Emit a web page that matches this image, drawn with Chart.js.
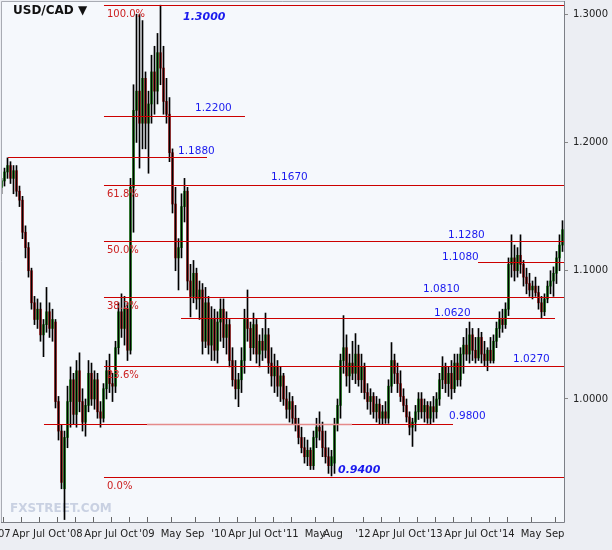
<!DOCTYPE html>
<html><head><meta charset="utf-8">
<script src="https://cdn.jsdelivr.net/npm/chart.js@4.4.1/dist/chart.umd.min.js"></script>
<style>html,body{margin:0;padding:0;background:#eceef3;}canvas{display:block;}</style>
</head><body>
<canvas id="c" width="612" height="550"></canvas>
<script>
// Semi-monthly USD/CAD candles, Jan 2007 .. Oct 2014
const opens = [1.165,1.170,1.177,1.182,1.172,1.178,1.162,1.155,1.130,1.118,1.100,1.075,1.062,1.070,1.050,1.058,1.068,1.055,1.060,0.998,
0.975,0.930,0.970,0.998,1.015,0.988,1.022,0.998,0.982,0.995,1.020,1.000,1.015,0.990,0.985,1.008,1.022,1.012,1.010,1.040,
1.068,1.055,1.070,1.038,1.165,1.225,1.240,1.215,1.250,1.215,1.230,1.255,1.240,1.270,1.258,1.232,1.222,1.192,1.152,1.110,
1.118,1.150,1.162,1.092,1.080,1.098,1.078,1.085,1.045,1.075,1.042,1.062,1.038,1.060,1.070,1.048,1.058,1.030,1.015,1.008,
1.015,1.030,1.062,1.055,1.040,1.058,1.035,1.045,1.038,1.050,1.028,1.018,1.025,1.010,1.018,1.000,0.992,0.998,0.985,0.980,
0.970,0.962,0.955,0.960,0.948,0.970,0.978,0.975,0.962,0.955,0.948,0.950,0.980,0.995,1.030,1.040,1.018,1.028,1.020,1.035,
1.015,1.025,1.005,0.998,1.002,0.990,0.996,0.985,0.990,0.985,1.010,1.030,1.020,1.012,1.002,0.995,0.986,0.978,0.982,0.990,
1.000,0.990,0.995,0.985,0.994,0.990,1.000,1.015,1.025,1.012,1.020,1.008,1.028,1.015,1.035,1.042,1.035,1.050,1.038,1.032,
1.048,1.035,1.030,1.038,1.030,1.045,1.055,1.062,1.058,1.070,1.105,1.110,1.100,1.112,1.105,1.095,1.090,1.085,1.088,1.083,
1.075,1.068,1.078,1.088,1.092,1.098,1.110,1.120];
const highs = [1.172,1.180,1.188,1.185,1.182,1.182,1.166,1.158,1.135,1.122,1.102,1.080,1.078,1.075,1.062,1.087,1.075,1.070,1.062,1.002,
0.980,0.975,1.010,1.025,1.020,1.030,1.036,1.008,1.000,1.030,1.028,1.022,1.020,0.998,1.012,1.030,1.035,1.020,1.045,1.075,
1.082,1.080,1.075,1.172,1.245,1.300,1.300,1.295,1.255,1.240,1.268,1.275,1.285,1.307,1.275,1.250,1.235,1.195,1.165,1.125,
1.160,1.172,1.165,1.105,1.108,1.102,1.092,1.090,1.087,1.080,1.072,1.070,1.068,1.078,1.078,1.068,1.062,1.040,1.030,1.020,
1.040,1.070,1.085,1.060,1.067,1.062,1.050,1.055,1.067,1.055,1.040,1.035,1.030,1.025,1.020,1.010,1.005,1.002,0.995,0.985,
0.978,0.970,0.968,0.962,0.975,0.985,0.990,0.982,0.975,0.962,0.960,0.985,1.000,1.035,1.065,1.050,1.035,1.045,1.051,1.042,
1.035,1.028,1.012,1.008,1.005,1.002,1.000,0.995,0.998,1.015,1.044,1.035,1.028,1.022,1.008,1.000,0.990,0.985,0.995,1.005,
1.005,1.000,0.998,0.998,1.002,1.005,1.020,1.033,1.028,1.025,1.030,1.035,1.035,1.040,1.048,1.055,1.060,1.055,1.048,1.055,
1.052,1.045,1.040,1.048,1.050,1.060,1.068,1.070,1.075,1.110,1.128,1.120,1.118,1.128,1.108,1.102,1.098,1.092,1.095,1.088,
1.080,1.082,1.092,1.100,1.103,1.115,1.128,1.139];
const lows = [1.160,1.166,1.172,1.168,1.160,1.158,1.150,1.125,1.110,1.095,1.070,1.058,1.055,1.045,1.033,1.052,1.048,1.045,0.993,0.968,
0.930,0.906,0.962,0.978,0.980,0.978,0.990,0.975,0.971,0.990,0.995,0.992,0.985,0.978,0.982,1.000,1.005,0.998,1.005,1.035,
1.048,1.042,1.030,1.035,1.130,1.200,1.180,1.195,1.195,1.176,1.215,1.222,1.230,1.245,1.222,1.215,1.185,1.145,1.100,1.085,
1.110,1.138,1.085,1.064,1.075,1.070,1.062,1.035,1.040,1.035,1.030,1.030,1.028,1.045,1.040,1.035,1.025,1.010,1.000,0.994,
1.005,1.020,1.045,1.030,1.035,1.028,1.025,1.030,1.032,1.020,1.010,1.005,1.002,0.998,0.995,0.985,0.982,0.980,0.975,0.965,
0.958,0.950,0.948,0.945,0.945,0.962,0.968,0.955,0.950,0.942,0.940,0.942,0.975,0.985,1.020,1.010,1.005,1.015,1.012,1.010,
1.005,1.000,0.992,0.988,0.985,0.982,0.980,0.980,0.981,0.981,1.005,1.012,1.005,0.998,0.990,0.982,0.972,0.963,0.975,0.984,
0.985,0.982,0.981,0.980,0.982,0.985,0.995,1.008,1.005,1.002,1.000,1.005,1.010,1.010,1.020,1.030,1.028,1.030,1.028,1.030,
1.028,1.026,1.022,1.028,1.028,1.040,1.048,1.052,1.055,1.065,1.095,1.092,1.095,1.098,1.088,1.082,1.080,1.078,1.080,1.070,
1.063,1.065,1.075,1.082,1.080,1.090,1.100,1.115];
const closes = [1.170,1.177,1.182,1.172,1.178,1.162,1.155,1.130,1.118,1.100,1.075,1.062,1.070,1.050,1.058,1.068,1.055,1.062,0.998,0.975,
0.935,0.970,0.998,1.015,0.988,1.022,0.998,0.982,0.995,1.020,1.000,1.015,0.990,0.985,1.008,1.022,1.012,1.010,1.040,1.068,
1.055,1.070,1.038,1.165,1.225,1.240,1.215,1.250,1.215,1.230,1.255,1.240,1.270,1.258,1.232,1.222,1.192,1.152,1.110,1.118,
1.150,1.162,1.092,1.080,1.098,1.078,1.085,1.045,1.075,1.042,1.062,1.038,1.060,1.070,1.048,1.058,1.030,1.015,1.008,1.015,
1.030,1.062,1.055,1.040,1.058,1.035,1.045,1.038,1.050,1.028,1.018,1.025,1.010,1.018,1.000,0.992,0.998,0.985,0.980,0.970,
0.962,0.955,0.960,0.948,0.970,0.978,0.975,0.962,0.955,0.948,0.955,0.980,0.995,1.030,1.040,1.018,1.028,1.020,1.035,1.015,
1.025,1.005,0.998,1.002,0.990,0.996,0.985,0.990,0.985,1.010,1.030,1.020,1.012,1.002,0.995,0.986,0.978,0.982,0.990,1.000,
0.990,0.995,0.985,0.994,0.990,1.000,1.015,1.025,1.012,1.020,1.008,1.028,1.015,1.035,1.042,1.035,1.050,1.038,1.032,1.048,
1.035,1.030,1.038,1.030,1.045,1.055,1.062,1.058,1.070,1.105,1.110,1.100,1.112,1.105,1.095,1.090,1.085,1.088,1.083,1.075,
1.068,1.078,1.088,1.092,1.098,1.110,1.120,1.132];

// x axis: months since Jan 2007
const tickMonths = [0,3,6,9,12,15,18,21,24,28,32,36,39,42,45,48,52,55,60,63,66,69,72,75,78,81,84,88,92];
const tickLabels = ["'07","Apr","Jul","Oct","'08","Apr","Jul","Oct","'09","May","Sep","'10","Apr","Jul","Oct","'11","May","Aug","'12","Apr","Jul","Oct","'13","Apr","Jul","Oct","'14","May","Sep"];
const priceTicks = [1.0, 1.1, 1.2, 1.3];

// Fibonacci retracement (high / low) and its level labels
const fibHigh = 1.307, fibLow = 0.9392;
const fibRatios = [1, 0.618, 0.5, 0.382, 0.236, 0];
const fibPctLabels = ['100.0%', '61.8%', '50.0%', '38.2%', '23.6%', '0.0%'];
const fibPriceLabels = ['1.3000', '1.1670', '1.1280', '1.0810', '1.0270', '0.9400'];
// Other support / resistance lines
const levelValues = [1.2208, 1.1883, 1.1066, 1.0628, 0.9803];
const levelLabels = ['1.2200', '1.1880', '1.1080', '1.0620', '0.9800'];

const candleMonth = opens.map((_, i) => i * 0.5 - 0.25);

// ---- styling / placement of annotations (months, pixel offsets) ----
const fibStyle = [
  {tx: 30.0, dy: 12, bold: true}, {tx: 44.67, dy: -8}, {tx: 74.17, dy: -6},
  {tx: 70.0, dy: -8}, {tx: 85.0, dy: -7}, {tx: 55.83, dy: -7, bold: true}
];
const levelStyle = [
  {from: 16.83, to: 40.33, tx: 32.0, dy: -8},
  {from: 0.83, to: 34.0, tx: 29.17, dy: -6.5},
  {from: 79.17, to: null, tx: 73.17, dy: -5},
  {from: 29.67, to: 92.0, tx: 71.83, dy: -5},
  {from: 6.83, to: 75.0, tx: 74.33, dy: -8, pink: [24.0, 58.17]}
];
const FONT = 'DejaVu Sans';
const RED = '#cc0000', BLUE = '#1a1aee', PCT = '#cc2020';

const deco = {
  id: 'deco',
  beforeDraw(chart) {
    const {ctx, chartArea: a} = chart;
    ctx.save();
    ctx.fillStyle = '#eceef3';
    ctx.fillRect(0, 0, chart.width, chart.height);
    ctx.fillStyle = '#f5f8fc';
    ctx.fillRect(a.left, a.top, a.right - a.left, a.bottom - a.top);
    ctx.restore();
  },
  beforeDatasetsDraw(chart) {
    const {ctx, chartArea: a} = chart;
    ctx.save();
    ctx.font = 'bold 12px ' + FONT;
    ctx.fillStyle = '#c9d1e2';
    ctx.textBaseline = 'middle';
    ctx.textAlign = 'left';
    ctx.fillText('FXSTREET.COM', a.left + 8, 509);
    ctx.restore();
  },
  afterDatasetsDraw(chart) {
    const {ctx, chartArea: a, scales: {x, y}} = chart;
    const hline = (v, m0, m1, color, w) => {
      const py = Math.round(y.getPixelForValue(v)) + 0.5;
      const x0 = m0 == null ? a.left : x.getPixelForValue(m0);
      const x1 = m1 == null ? a.right : x.getPixelForValue(m1);
      ctx.strokeStyle = color; ctx.lineWidth = w || 1;
      ctx.beginPath(); ctx.moveTo(x0, py); ctx.lineTo(x1, py); ctx.stroke();
      return py;
    };
    ctx.save();
    ctx.textBaseline = 'middle';
    ctx.textAlign = 'left';
    fibRatios.forEach((r, i) => {
      const v = fibLow + r * (fibHigh - fibLow);
      const py = hline(v, 16.83, null, RED);
      ctx.font = '10px ' + FONT; ctx.fillStyle = PCT;
      ctx.fillText(fibPctLabels[i], x.getPixelForValue(17.33), py + 9);
      const s = fibStyle[i];
      ctx.font = (s.bold ? 'italic bold 11px ' : '10.5px ') + FONT; ctx.fillStyle = BLUE;
      ctx.fillText(fibPriceLabels[i], x.getPixelForValue(s.tx), py + s.dy);
    });
    levelValues.forEach((v, i) => {
      const s = levelStyle[i];
      let py;
      if (s.pink) {
        py = hline(v, s.from, s.pink[0], RED);
        hline(v, s.pink[0], s.pink[1], '#e58a8a', 1.5);
        hline(v, s.pink[1], s.to, RED);
      } else {
        py = hline(v, s.from, s.to, RED);
      }
      ctx.font = '10.5px ' + FONT; ctx.fillStyle = BLUE;
      ctx.fillText(levelLabels[i], x.getPixelForValue(s.tx), py + s.dy);
    });
    ctx.restore();
  },
  afterDraw(chart) {
    const {ctx, chartArea: a, scales: {x}} = chart;
    ctx.save();
    ctx.lineWidth = 1;
    ctx.strokeStyle = '#a8abb3';
    ctx.beginPath();
    ctx.moveTo(a.left - 0.5, a.bottom); ctx.lineTo(a.left - 0.5, a.top - 0.5); ctx.lineTo(a.right, a.top - 0.5);
    ctx.stroke();
    ctx.strokeStyle = '#7c7f86';
    ctx.beginPath();
    ctx.moveTo(a.right + 0.5, a.top - 1); ctx.lineTo(a.right + 0.5, a.bottom + 0.5); ctx.lineTo(a.left - 1, a.bottom + 0.5);
    ctx.stroke();
    ctx.strokeStyle = '#666';
    tickMonths.forEach(m => {
      const px = Math.round(x.getPixelForValue(m)) + 0.5;
      ctx.beginPath(); ctx.moveTo(px, a.bottom - 5); ctx.lineTo(px, a.bottom); ctx.stroke();
    });
    ctx.font = 'bold 12px ' + FONT;
    ctx.fillStyle = '#111';
    ctx.textBaseline = 'middle';
    ctx.fillText('USD/CAD \u25BC', 13, 11);
    ctx.restore();
  }
};

new Chart(document.getElementById('c'), {
  type: 'bar',
  data: {
    datasets: [
      {
        label: 'wick',
        data: candleMonth.map((m, i) => ({x: m, y: [lows[i], highs[i]]})),
        backgroundColor: '#000',
        barThickness: 1,
        grouped: false,
        borderWidth: 0,
        order: 0
      },
      {
        label: 'body',
        data: candleMonth.map((m, i) => ({x: m, y: [opens[i], closes[i]]})),
        backgroundColor: closes.map((c, i) => c >= opens[i] ? '#25a025' : '#c8282a'),
        barThickness: 2,
        grouped: false,
        borderWidth: 0,
        order: 1
      }
    ]
  },
  options: {
    responsive: false,
    animation: false,
    layout: {padding: {top: 2, left: 2, right: 0, bottom: 0}},
    plugins: {legend: {display: false}, tooltip: {enabled: false}},
    scales: {
      x: {
        type: 'linear', min: -0.1667, max: 93.5, offset: false,
        grid: {display: false, drawTicks: false},
        border: {display: false},
        afterBuildTicks: s => { s.ticks = tickMonths.map(v => ({value: v})); },
        afterFit: s => { s.height = 28; s.paddingLeft = 0; s.paddingRight = 0; },
        ticks: {
          autoSkip: false, maxRotation: 0, minRotation: 0, padding: 6,
          font: {family: FONT, size: 10}, color: '#222',
          callback: (v, i) => tickLabels[i]
        }
      },
      y: {
        type: 'linear', position: 'right', min: 0.9041, max: 1.3095,
        grid: {drawOnChartArea: false, tickLength: 4, color: '#888'},
        border: {display: false},
        afterBuildTicks: s => { s.ticks = priceTicks.map(v => ({value: v})); },
        afterFit: s => { s.width = 48; s.paddingTop = 0; s.paddingBottom = 0; },
        ticks: {
          padding: 5, font: {family: FONT, size: 10}, color: '#222',
          callback: v => Number(v).toFixed(4)
        }
      }
    }
  },
  plugins: [deco]
});
</script>
</body></html>
